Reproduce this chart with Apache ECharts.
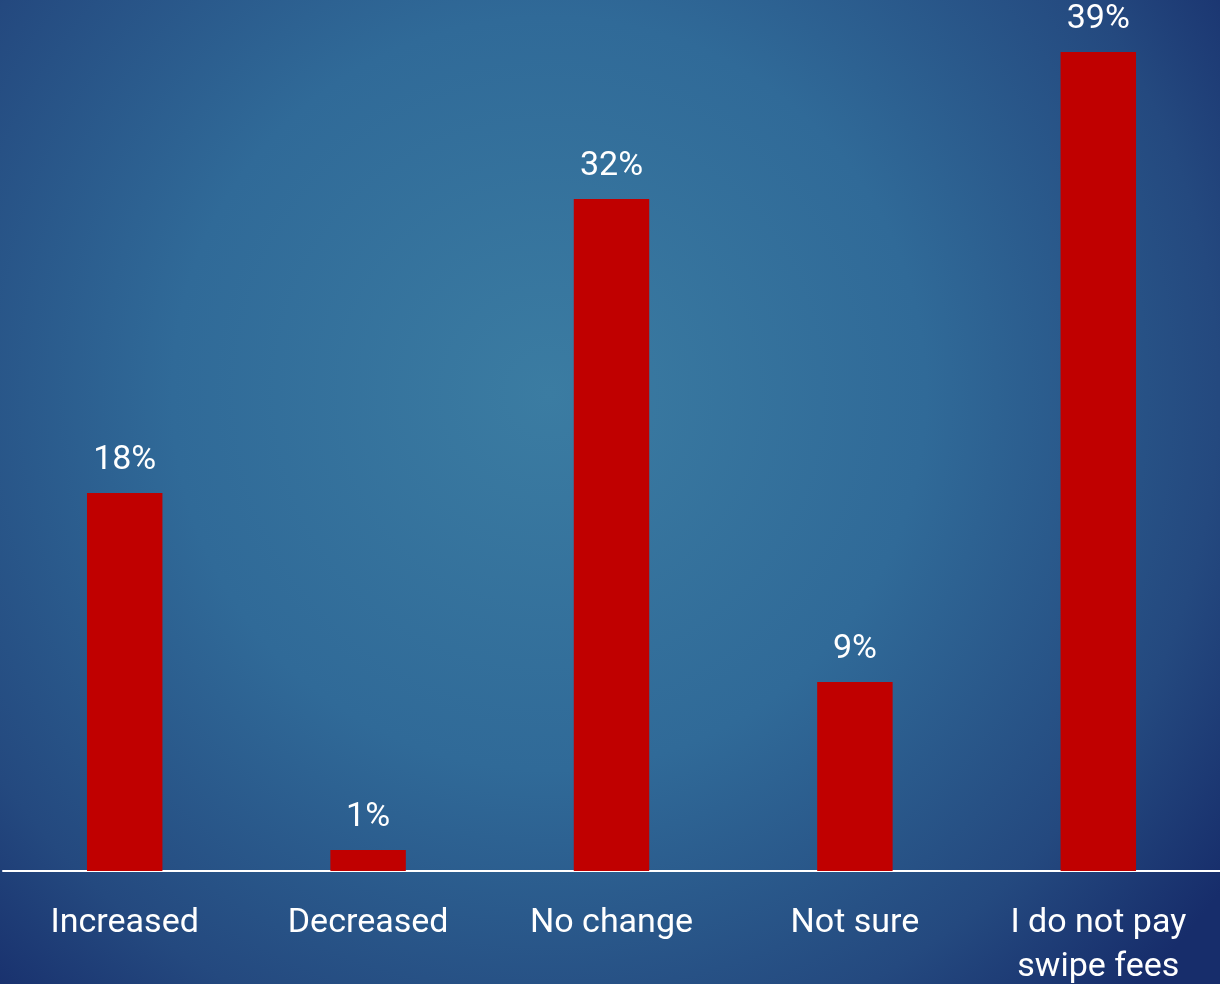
<!DOCTYPE html>
<html>
<head>
<meta charset="utf-8">
<script src="https://cdn.jsdelivr.net/npm/echarts@6/dist/echarts.min.js"></script>
<style>
  html, body { margin: 0; padding: 0; overflow: hidden; }
  #chart { width: 1220px; height: 984px; }
</style>
</head>
<body>
<div id="chart"></div>
<script>
// Survey answers: change in card swipe fees
const categories = ['Increased', 'Decreased', 'No change', 'Not sure', 'I do not pay\nswipe fees'];
const shares = [18, 1, 32, 9, 39];

const chart = echarts.init(document.getElementById('chart'));
chart.setOption({
  backgroundColor: {
    type: 'radial',
    x: 0.45, y: 0.4, r: 0.85,
    colorStops: [
      { offset: 0, color: '#3b7ca2' },
      { offset: 0.45, color: '#306a98' },
      { offset: 0.8, color: '#24497f' },
      { offset: 1, color: '#172d6b' }
    ]
  },
  animation: false,
  grid: { left: 3, right: 0, top: 31, bottom: 113, containLabel: false, outerBoundsMode: 'none' },
  xAxis: {
    type: 'category',
    data: categories,
    axisLine: { show: true, lineStyle: { color: '#ffffff', width: 2 } },
    axisTick: { show: false },
    axisLabel: {
      color: '#ffffff',
      fontFamily: 'Roboto, "Noto Sans", sans-serif',
      fontSize: 34,
      lineHeight: 44,
      margin: 30,
      interval: 0
    }
  },
  yAxis: {
    type: 'value',
    min: 0,
    max: 40,
    show: false,
    splitLine: { show: false }
  },
  series: [{
    type: 'bar',
    data: shares,
    barWidth: '31%',
    itemStyle: { color: '#c00000' },
    label: {
      show: true,
      position: 'top',
      distance: 16,
      color: '#ffffff',
      fontFamily: 'Roboto, "Noto Sans", sans-serif',
      fontSize: 34,
      formatter: p => p.value + '%'
    }
  }]
});
</script>
</body>
</html>
